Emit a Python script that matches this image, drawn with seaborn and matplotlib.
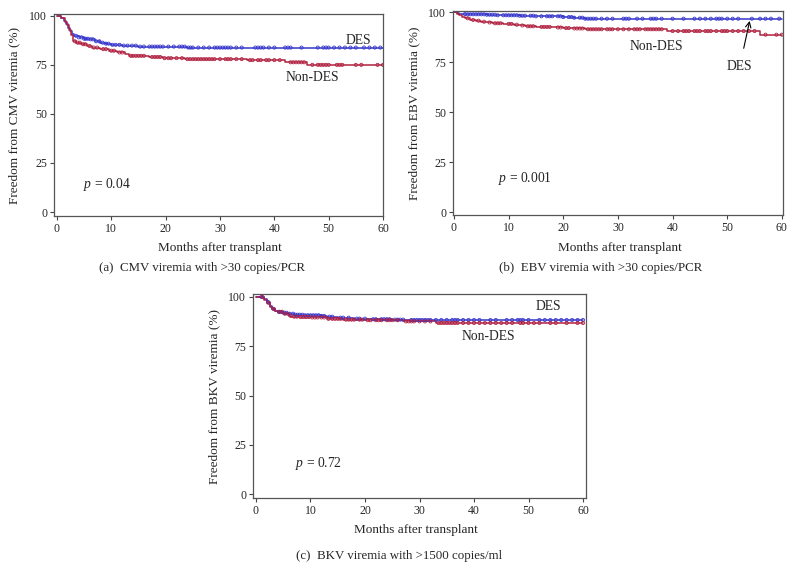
import numpy as np
import pandas as pd
import matplotlib
matplotlib.use("Agg")
import matplotlib.pyplot as plt
import seaborn as sns

sns.set_theme(style="white")
plt.rcParams['font.family'] = ['Liberation Serif', 'DejaVu Serif']
plt.rcParams['mathtext.fontset'] = 'custom'
plt.rcParams['mathtext.it'] = 'Liberation Serif:italic'
plt.rcParams['mathtext.rm'] = 'Liberation Serif'

BLUE = "#3535cc"
RED = "#b0203f"

# ---------------- Data ----------------
# Panel (a) CMV
a_des_t = [0, 0.8, 1.2, 1.6, 2.0, 2.4, 2.8, 3.2, 4.0, 5.0, 6.0, 7.0, 8.0, 9.0, 10.0, 12.0, 15.0, 24.0]
a_des_s = [100, 99, 97.5, 96, 94, 92, 90.5, 89.8, 89, 88.3, 88, 87, 86.3, 85.8, 85.2, 84.8, 84.3, 83.8]
a_non_t = [0, 0.8, 1.4, 1.8, 2.2, 2.6, 2.9, 3.5, 4.5, 5.5, 6.5, 8, 9.5, 11, 12.5, 13.3, 17, 19.5, 23.5, 35, 42, 46]
a_non_s = [100, 99, 97, 95.5, 93, 90, 87, 86.3, 85.5, 84.6, 83.8, 83, 82.2, 81.3, 80.3, 79.6, 79, 78.4, 77.9, 77.4, 76.3, 75]
a_des_c = [3.5, 4, 4.5, 5, 5.3, 5.7, 6.2, 6.6, 7.2, 7.8, 8.4, 9, 9.5, 10.2, 10.8, 11.5, 12.3, 13, 13.8, 14.5,
           15.3, 16, 17, 17.5, 18, 18.5, 19, 19.5, 20.5, 21.5, 22.5, 23, 23.5, 24.2, 24.6, 25, 26, 27, 28, 29,
           29.5, 30, 30.5, 31, 31.5, 32, 33, 34, 36.5, 37, 37.5, 38, 39, 40, 42, 42.5, 43, 45, 48, 49, 49.5,
           50, 51, 52, 53, 54, 55, 56.5, 57.5, 58.5, 59.5]
a_non_c = [3.3, 3.8, 4.2, 4.8, 5.2, 6, 6.8, 7.4, 8.5, 9, 10, 10.5, 11.5, 12, 13.6, 14, 14.5, 15, 15.5, 16,
           17.5, 18, 18.5, 19, 19.8, 20.5, 21, 22, 23, 24, 24.5, 25, 25.5, 26, 26.5, 27, 27.5, 28, 28.5, 29,
           30, 31, 31.5, 32, 33, 34, 35.5, 36, 37, 37.5, 38.5, 39, 40, 41, 43, 43.5, 44, 44.5, 45, 45.5, 47,
           48, 48.5, 49, 49.5, 50, 51.5, 52, 52.5, 55, 56, 59, 60]

# Panel (b) EBV
b_des_t = [0, 0.5, 1, 1.5, 2.5, 6, 8, 12, 15, 20, 22, 24]
b_des_s = [100, 99.6, 99.3, 99.1, 99.0, 98.8, 98.5, 98.3, 98.0, 97.6, 97.3, 96.8]
b_non_t = [0, 0.5, 1, 1.5, 2, 3, 4, 5, 6, 7, 9, 11, 12, 13, 15, 18, 20, 21.5, 24, 39, 56]
b_non_s = [100, 99.3, 98.6, 97.8, 97, 96.2, 95.8, 95.3, 94.9, 94.5, 94.2, 93.8, 93.4, 93, 92.7, 92.4, 92.1,
           91.9, 91.5, 90.6, 88.8]
b_des_c = [2, 2.5, 3, 3.5, 4, 4.5, 5, 5.5, 6, 6.5, 7, 7.5, 8, 9, 9.5, 10, 10.5, 11, 11.5, 12, 12.5, 13, 14,
           14.5, 15, 16, 17, 17.5, 18, 19, 19.5, 20, 21, 21.5, 22, 23, 23.5, 24, 24.5, 25, 25.5, 26, 27, 28,
           29, 31, 31.5, 32, 33.5, 34.5, 36, 36.5, 37, 38, 40, 42, 44, 45, 46, 47, 48, 48.5, 49, 50, 51, 52,
           54.5, 56, 57, 58, 59.5]
b_non_c = [2.5, 3.5, 4.5, 5.5, 6.5, 7.5, 8, 8.5, 10, 10.5, 11.5, 12.5, 13.5, 14, 14.5, 16, 16.5, 17, 17.5,
           19, 19.5, 20.5, 21, 22, 22.5, 23, 23.5, 24.5, 25, 25.5, 26, 26.5, 27, 28, 28.5, 29, 30, 31, 32, 33,
           33.5, 34, 35, 35.5, 36, 36.5, 37, 37.5, 38, 40, 41, 42, 42.5, 43, 44, 44.5, 45, 46, 46.5, 47, 48,
           49, 49.5, 50, 51, 52, 53, 54, 55, 57, 59, 60]

# Panel (c) BKV
c_des_t = [0, 1.5, 2, 2.5, 3, 3.5, 4, 5, 6, 7, 9, 12, 13, 15, 18, 21, 25, 28]
c_des_s = [100, 99, 97.5, 95.5, 94, 93, 92.4, 92, 91.5, 91, 90.7, 90.4, 90, 89.5, 89, 88.7, 88.5, 88.3]
c_non_t = [0, 1.5, 2, 2.5, 3, 3.5, 4, 5, 6, 6.5, 8, 10, 13, 16, 20, 27, 33]
c_non_s = [100, 98.5, 97, 95, 93.8, 93, 92.5, 91.5, 90.5, 90, 89.8, 89.6, 88.9, 88.5, 88.2, 87.6, 86.8]
c_des_c = [1, 2.2, 3.2, 4.2, 4.6, 5.2, 5.6, 6.2, 6.8, 7.2, 7.6, 8, 8.5, 9, 9.5, 10, 10.5, 11, 11.5, 12, 12.5,
           13.5, 14, 15.5, 16, 17, 18.5, 19, 20, 21.5, 22, 23, 23.5, 24, 24.5, 25.5, 26, 26.5, 27, 28.5, 29,
           29.5, 30, 30.5, 31, 31.5, 32, 33, 34, 35, 36, 36.5, 37, 38, 39, 40, 41, 43, 44, 46, 47, 48, 48.5,
           49, 50, 52, 53, 54, 55, 56, 57, 58, 59, 60]
c_non_c = [1.2, 2.3, 3.3, 4.3, 4.8, 5.3, 5.8, 6.3, 7, 7.5, 8.2, 8.7, 9.2, 9.7, 10.3, 10.8, 11.3, 12, 12.5,
           13.3, 14, 14.5, 15, 15.5, 16.5, 17, 17.5, 18, 19, 19.5, 20.5, 21, 22, 22.5, 23, 24, 24.5, 25, 26,
           27.5, 28, 28.5, 29, 30, 31, 32, 33.5, 34, 34.5, 35, 35.5, 36, 36.5, 37, 38, 39, 40, 41, 42, 43,
           44, 45, 46, 47, 48.5, 49, 50, 51, 52, 54, 55, 57, 59, 60]

x_ticks = [0, 10, 20, 30, 40, 50, 60]
y_ticks = [0, 25, 50, 75, 100]
x_label = "Months after transplant"
y_labels = ["Freedom from CMV viremia (%)", "Freedom from EBV viremia (%)", "Freedom from BKV viremia (%)"]
captions = ["(a)  CMV viremia with >30 copies/PCR", "(b)  EBV viremia with >30 copies/PCR",
            "(c)  BKV viremia with >1500 copies/ml"]
p_texts = ["$p$ = 0.04", "$p$ = 0.001", "$p$ = 0.72"]

W, H = 796, 583
fig = plt.figure(figsize=(W / 100, H / 100), dpi=100)

LAB_FS = 9.5
ANN_FS = 9.8
CAP_FS = 9.3


def px_axes(l, t, r, b):
    return fig.add_axes([l / W, (H - b) / H, (r - l) / W, (b - t) / H])


def km(ax, t, s, cens, color):
    tt = list(t) + [60]
    ss = list(s) + [s[-1]]
    df = pd.DataFrame({"t": tt, "s": ss})
    sns.lineplot(data=df, x="t", y="s", drawstyle="steps-post", color=color, lw=1.1, ax=ax,
                 estimator=None, sort=False)
    ta = np.array(t)
    sa = np.array(s)
    cy = sa[np.searchsorted(ta, np.array(cens), side="right") - 1]
    cdf = pd.DataFrame({"t": cens, "s": cy})
    sns.scatterplot(data=cdf, x="t", y="s", marker="o", s=5, facecolor="none", edgecolor=color,
                    linewidth=0.6, ax=ax, zorder=3)


def style(ax, xlim, ylim, ylab):
    ax.set_xlim(*xlim)
    ax.set_ylim(*ylim)
    ax.set_xticks(x_ticks)
    ax.set_yticks(y_ticks)
    ax.tick_params(axis="both", which="both", direction="out", length=3, width=0.8, color="#444444",
                   labelsize=8.5, pad=2, bottom=True, left=True)
    for sp in ax.spines.values():
        sp.set_color("#555555")
        sp.set_linewidth(0.9)
    ax.set_xlabel(x_label, fontsize=LAB_FS)
    ax.set_ylabel(ylab, fontsize=LAB_FS)


# Panel a
axA = px_axes(54, 14, 383, 216)
km(axA, a_des_t, a_des_s, a_des_c, BLUE)
km(axA, a_non_t, a_non_s, a_non_c, RED)
style(axA, (-0.55, 60.0), (-2.0, 100.9), y_labels[0])
axA.xaxis.set_label_coords(0.505, -0.127)
axA.yaxis.set_label_coords(-0.103, 0.5)
axA.text(55.4, 87.6, "DES", fontsize=ANN_FS, ha="center", va="center")
axA.text(47.1, 68.8, "Non-DES", fontsize=ANN_FS, ha="center", va="center")
axA.text(4.8, 13.8, p_texts[0], fontsize=ANN_FS, ha="left", va="center")

# Panel b
axB = px_axes(453, 11, 783, 215)
km(axB, b_des_t, b_des_s, b_des_c, BLUE)
km(axB, b_non_t, b_non_s, b_non_c, RED)
style(axB, (-0.18, 60.2), (-1.5, 100.65), y_labels[1])
axB.xaxis.set_label_coords(0.505, -0.13)
axB.yaxis.set_label_coords(-0.1, 0.5)
axB.text(37.1, 83.0, "Non-DES", fontsize=ANN_FS, ha="center", va="center")
axB.annotate("DES", xy=(54.1, 95.7), xytext=(52.3, 73.0), fontsize=ANN_FS, ha="center", va="center",
             arrowprops=dict(arrowstyle="->", color="black", lw=0.8, shrinkA=6, shrinkB=0))
axB.text(8.0, 17.0, p_texts[1], fontsize=ANN_FS, ha="left", va="center")

# Panel c
axC = px_axes(253, 294, 586, 498)
km(axC, c_des_t, c_des_s, c_des_c, BLUE)
km(axC, c_non_t, c_non_s, c_non_c, RED)
style(axC, (-0.55, 60.55), (-2.0, 101.5), y_labels[2])
axC.xaxis.set_label_coords(0.49, -0.125)
axC.yaxis.set_label_coords(-0.099, 0.5)
axC.text(53.6, 95.0, "DES", fontsize=ANN_FS, ha="center", va="center")
axC.text(42.6, 79.7, "Non-DES", fontsize=ANN_FS, ha="center", va="center")
axC.text(7.2, 15.7, p_texts[2], fontsize=ANN_FS, ha="left", va="center")

# Captions
fig.text(202 / W, 1 - 268 / H, captions[0], fontsize=CAP_FS, ha="center", va="center")
fig.text(601 / W, 1 - 268 / H, captions[1], fontsize=CAP_FS, ha="center", va="center")
fig.text(399 / W, 1 - 556 / H, captions[2], fontsize=CAP_FS, ha="center", va="center")

fig.savefig("out.png", dpi=100)
